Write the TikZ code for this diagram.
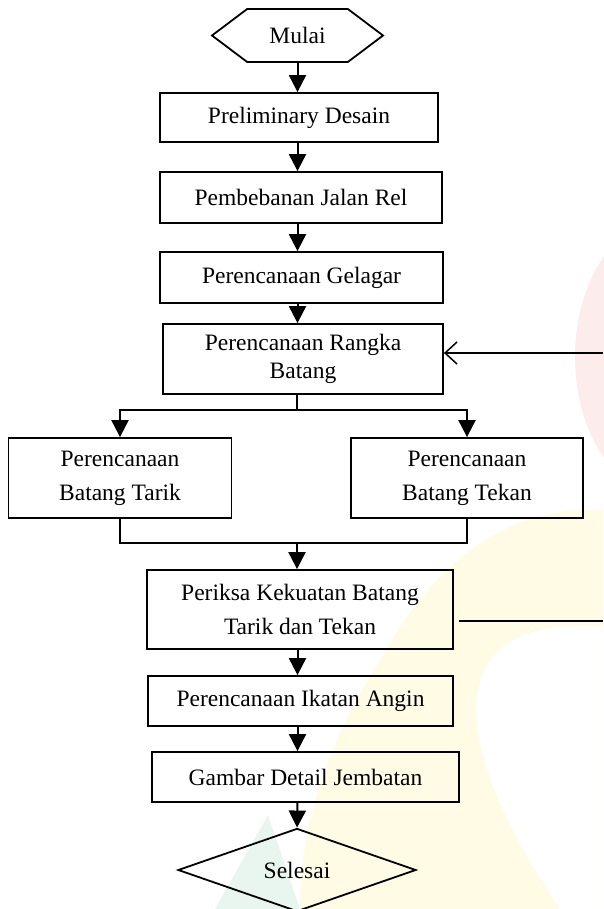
\documentclass[tikz,border=0pt]{standalone}
\usepackage{fontspec}
\setmainfont{Liberation Serif}
\usetikzlibrary{arrows.meta,shapes.geometric,shapes.symbols,positioning}

\definecolor{merahmuda}{RGB}{253,236,236}
\definecolor{kuningmuda}{RGB}{255,251,228}
\definecolor{hijaumuda}{RGB}{233,245,239}

\begin{document}
\begin{tikzpicture}[x=1pt,y=-1pt,line width=1.8pt,font=\fontsize{23.5}{34}\selectfont]
    \tikzstyle{box}=[rectangle, draw, align=center, inner sep=2pt]
    \tikzstyle{flow}=[line width=2pt, -{Triangle[length=17pt,width=17pt]}]
    \tikzstyle{balik}=[line width=2pt, -{Straight Barb[length=12pt,width=22pt,line width=1.5pt]}]

    \useasboundingbox (0,0) rectangle (603,909);

    % latar (watermark)
    \fill[merahmuda] (670,357) ellipse [x radius=95pt, y radius=140pt];
    \fill[hijaumuda] (268,815) -- (215,909) -- (300,909) -- cycle;
    \fill[kuningmuda] (603,510) .. controls (500,505) and (430,570) .. (380,660)
        .. controls (330,740) and (300,820) .. (300,909) -- (603,909) -- cycle;
    \fill[white] (603,627) .. controls (470,615) and (420,700) .. (560,909) -- (603,909) -- cycle;

    \node[signal, signal to=west and east, draw, signal pointer angle=74,
          minimum width=171pt, minimum height=53pt, inner sep=0pt] (mulai) at (297.5,35.5) {Mulai};
    \node[box, minimum width=278pt, minimum height=49pt] (prelim)  at (299,117.5) {Preliminary Desain};
    \node[box, minimum width=282pt, minimum height=51pt] (beban)   at (301,197.5) {Pembebanan Jalan Rel};
    \node[box, minimum width=283pt, minimum height=51pt] (gelagar) at (301.5,277.5) {Perencanaan Gelagar};
    \node[box, minimum width=280pt, minimum height=70pt,
          font=\fontsize{23.5}{28}\selectfont]          (rangka)  at (303,359) {Perencanaan Rangka\\Batang};
    \node[box, minimum width=223pt, minimum height=80pt] (tarik)   at (120,478) {Perencanaan\\Batang Tarik};
    \node[box, minimum width=232pt, minimum height=80pt] (tekan)   at (467,478) {Perencanaan\\Batang Tekan};
    \node[box, minimum width=306pt, minimum height=79pt] (periksa) at (300,609.5) {Periksa Kekuatan Batang\\Tarik dan Tekan};
    \node[box, minimum width=305pt, minimum height=50pt] (angin)   at (300.5,701) {Perencanaan Ikatan Angin};
    \node[box, minimum width=307pt, minimum height=50pt] (gambar)  at (305.5,777) {Gambar Detail Jembatan};
    \node[diamond, draw, minimum width=238pt, minimum height=76pt, inner sep=0pt] (selesai) at (297,870) {Selesai};

    \coordinate (pisah)  at (297,410);
    \coordinate (gabung) at (297,543);
    \coordinate (kanan1) at (603,621);
    \coordinate (kanan2) at (603,353);

    \draw[flow] (mulai.south) -- (mulai.south |- prelim.north);
    \draw[flow] (mulai |- prelim.south) -- (mulai |- beban.north);
    \draw[flow] (mulai |- beban.south) -- (mulai |- gelagar.north);
    \draw[flow] (mulai |- gelagar.south) -- (mulai |- rangka.north);

    \draw[line width=2pt] (pisah |- rangka.south) -- (pisah);
    \draw[flow] (pisah) -| (tarik.north);
    \draw[flow] (pisah) -| (tekan.north);

    \draw[line width=2pt] (tarik.south) |- (gabung);
    \draw[line width=2pt] (tekan.south) |- (gabung);
    \draw[flow] (gabung) -- (gabung |- periksa.north);

    \draw[flow] (mulai |- periksa.south) -- (mulai |- angin.north);
    \draw[flow] (mulai |- angin.south) -- (mulai |- gambar.north);
    \draw[flow] (mulai |- gambar.south) -- (selesai.north);

    \draw[line width=2pt] ([xshift=5pt]periksa.east |- kanan1) -- (kanan1);
    \draw[balik] (kanan2) -- (kanan2 -| rangka.east);
\end{tikzpicture}
\end{document}
